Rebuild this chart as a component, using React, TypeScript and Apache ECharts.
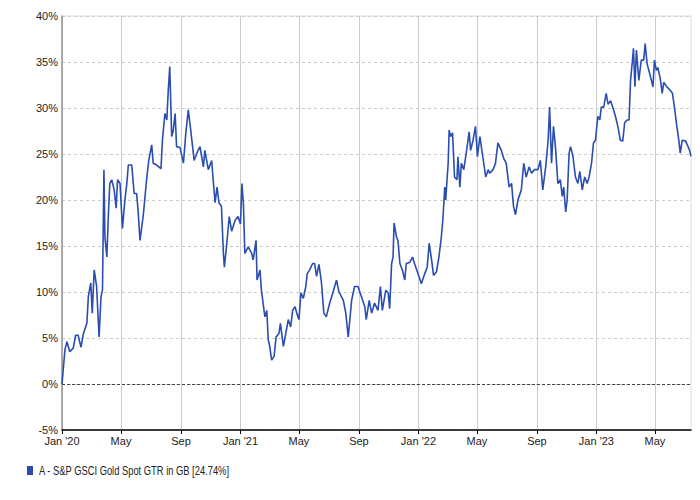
import React, { useEffect, useRef } from "react";
import * as echarts from "echarts";

const seriesName = "A - S&P GSCI Gold Spot GTR in GB [24.74%]";

const dates: string[] = [
  "2020-01-01","2020-01-07","2020-01-11","2020-01-17","2020-01-24","2020-01-29","2020-02-03","2020-02-09","2020-02-14","2020-02-21",
  "2020-02-24","2020-02-29","2020-03-03","2020-03-07","2020-03-12","2020-03-17","2020-03-21","2020-03-24","2020-03-27","2020-03-29",
  "2020-04-02","2020-04-05","2020-04-08","2020-04-12","2020-04-17","2020-04-21","2020-04-24","2020-04-29","2020-05-04","2020-05-09",
  "2020-05-13","2020-05-16","2020-05-23","2020-05-28","2020-06-02","2020-06-05","2020-06-09","2020-06-16","2020-06-23","2020-06-27",
  "2020-07-03","2020-07-06","2020-07-13","2020-07-22","2020-07-25","2020-07-30","2020-08-03","2020-08-06","2020-08-09","2020-08-13",
  "2020-08-16","2020-08-20","2020-08-23","2020-08-30","2020-09-06","2020-09-11","2020-09-16","2020-09-21","2020-09-28","2020-10-06",
  "2020-10-10","2020-10-17","2020-10-20","2020-10-27","2020-11-03","2020-11-06","2020-11-10","2020-11-14","2020-11-18","2020-11-23",
  "2020-11-27","2020-11-29","2020-12-04","2020-12-09","2020-12-14","2020-12-21","2020-12-27","2021-01-01","2021-01-04","2021-01-07",
  "2021-01-10","2021-01-17","2021-01-24","2021-01-27","2021-02-02","2021-02-04","2021-02-10","2021-02-13","2021-02-20","2021-02-24",
  "2021-02-27","2021-03-02","2021-03-06","2021-03-11","2021-03-15","2021-03-21","2021-03-24","2021-03-30","2021-04-04","2021-04-09",
  "2021-04-14","2021-04-18","2021-04-23","2021-04-27","2021-05-01","2021-05-05","2021-05-10","2021-05-15","2021-05-18","2021-05-23",
  "2021-05-29","2021-06-02","2021-06-06","2021-06-11","2021-06-16","2021-06-21","2021-06-26","2021-07-03","2021-07-10","2021-07-17",
  "2021-07-22","2021-07-31","2021-08-05","2021-08-10","2021-08-17","2021-08-23","2021-08-30","2021-09-06","2021-09-13","2021-09-16",
  "2021-09-22","2021-09-27","2021-10-03","2021-10-10","2021-10-15","2021-10-19","2021-10-26","2021-10-31","2021-11-03","2021-11-07",
  "2021-11-10","2021-11-12","2021-11-17","2021-11-20","2021-11-24","2021-11-29","2021-12-04","2021-12-07","2021-12-14","2021-12-20",
  "2021-12-24","2021-12-31","2022-01-07","2022-01-14","2022-01-19","2022-01-23","2022-01-28","2022-02-01","2022-02-07","2022-02-12",
  "2022-02-17","2022-02-20","2022-02-24","2022-02-26","2022-03-01","2022-03-03","2022-03-05","2022-03-08","2022-03-12","2022-03-16",
  "2022-03-21","2022-03-23","2022-03-27","2022-03-30","2022-04-04","2022-04-09","2022-04-15","2022-04-18","2022-04-23","2022-04-28",
  "2022-05-02","2022-05-07","2022-05-13","2022-05-19","2022-05-24","2022-05-27","2022-06-03","2022-06-08","2022-06-13","2022-06-20",
  "2022-06-25","2022-06-30","2022-07-06","2022-07-11","2022-07-15","2022-07-19","2022-07-24","2022-07-31","2022-08-05","2022-08-10",
  "2022-08-16","2022-08-21","2022-08-27","2022-09-03","2022-09-08","2022-09-13","2022-09-19","2022-09-24","2022-09-27","2022-10-01",
  "2022-10-05","2022-10-09","2022-10-14","2022-10-19","2022-10-23","2022-10-26","2022-10-30","2022-11-02","2022-11-06","2022-11-09",
  "2022-11-14","2022-11-19","2022-11-24","2022-11-28","2022-12-03","2022-12-08","2022-12-13","2022-12-17","2022-12-22","2022-12-26",
  "2022-12-30","2023-01-04","2023-01-08","2023-01-11","2023-01-16","2023-01-21","2023-01-25","2023-01-30","2023-02-04","2023-02-09",
  "2023-02-14","2023-02-19","2023-02-24","2023-02-28","2023-03-05","2023-03-09","2023-03-12","2023-03-16","2023-03-18","2023-03-21",
  "2023-03-24","2023-03-29","2023-04-03","2023-04-08","2023-04-11","2023-04-15","2023-04-20","2023-04-27","2023-04-30","2023-05-04",
  "2023-05-07","2023-05-12","2023-05-16","2023-05-19","2023-05-24","2023-05-31","2023-06-06","2023-06-10","2023-06-15","2023-06-19",
  "2023-06-22","2023-06-26","2023-07-03","2023-07-08","2023-07-11","2023-07-14"
];

const values: number[] = [
  0, 3.7, 4.6, 3.5, 3.9, 5.3, 5.3, 4.0, 5.5, 6.6,
  9.5, 11.0, 7.7, 12.4, 10.6, 5.1, 9.5, 10.2, 23.3, 16.0,
  13.8, 18.2, 21.8, 22.2, 21.1, 19.1, 22.2, 21.8, 16.9, 20.0,
  21.8, 23.8, 23.8, 20.7, 20.7, 18.9, 15.6, 18.5, 22.5, 24.3,
  26.0, 24.0, 23.8, 23.4, 26.5, 29.4, 28.7, 32.0, 34.5, 26.9,
  27.5, 29.4, 25.8, 25.7, 24.0, 27.3, 29.8, 27.6, 24.3, 25.4,
  25.8, 23.6, 25.4, 23.3, 24.3, 22.2, 19.7, 21.4, 19.7, 19.3,
  14.2, 12.7, 15.3, 18.2, 16.6, 17.8, 18.2, 17.4, 21.8, 19.7,
  14.2, 14.9, 14.2, 13.5, 15.6, 11.3, 12.4, 10.2, 7.3, 8.0,
  4.8, 4.1, 2.6, 3.0, 5.1, 5.5, 6.6, 4.1, 5.5, 7.0,
  6.2, 8.0, 8.4, 7.6, 7.0, 9.9, 9.3, 10.6, 12.0, 12.4,
  13.1, 13.1, 11.7, 13.0, 11.1, 7.7, 7.3, 8.8, 10.0, 11.3,
  10.0, 9.1, 7.7, 5.1, 9.1, 10.6, 10.6, 9.5, 8.4, 7.0,
  9.1, 7.7, 8.8, 8.0, 10.6, 8.0, 10.2, 9.9, 8.2, 13.1,
  13.8, 17.5, 16.0, 15.6, 13.1, 12.4, 11.3, 13.1, 13.2, 13.8,
  13.1, 12.0, 10.9, 12.0, 12.7, 15.3, 13.5, 11.8, 12.2, 13.8,
  16.0, 17.8, 21.4, 20.0, 22.5, 24.0, 27.6, 26.9, 27.3, 22.5,
  22.2, 24.7, 21.4, 24.0, 23.3, 25.1, 27.4, 25.4, 26.5, 28.0,
  24.7, 26.9, 24.7, 22.5, 23.3, 22.9, 23.3, 24.0, 26.2, 25.4,
  24.5, 24.0, 21.4, 21.8, 19.3, 18.4, 20.0, 21.1, 24.0, 22.5,
  23.6, 22.9, 23.3, 23.3, 24.3, 21.1, 23.6, 26.5, 30.1, 24.0,
  28.0, 25.8, 21.8, 22.2, 20.4, 21.4, 18.7, 20.0, 25.1, 25.8,
  24.7, 22.5, 21.8, 23.1, 21.1, 22.5, 21.8, 22.5, 24.0, 26.2,
  26.5, 29.1, 28.7, 30.1, 30.1, 31.6, 30.4, 30.8, 30.0, 29.1,
  28.0, 26.5, 26.4, 28.4, 28.7, 28.7, 33.0, 35.2, 36.5, 32.3,
  36.3, 33.0, 35.2, 35.2, 37.0, 34.8, 33.8, 32.3, 35.2, 34.1,
  34.4, 33.2, 31.6, 32.8, 32.4, 32.0, 31.6, 30.1, 28.0, 26.5,
  25.1, 26.5, 26.4, 25.8, 25.4, 24.74
];

const tickDates: string[] = [
  "2020-01-01","2020-05-01","2020-09-01","2021-01-01","2021-05-01","2021-09-01",
  "2022-01-01","2022-05-01","2022-09-01","2023-01-01","2023-05-01"
];
const tickLabels: string[] = [
  "Jan '20","May","Sep","Jan '21","May","Sep","Jan '22","May","Sep","Jan '23","May"
];
const xMinDate = "2020-01-01";
const xMaxDate = "2023-07-14";
const yMin = -5;
const yMax = 40;
const yStep = 5;

function toTime(s: string): number {
  const [y, m, d] = s.split("-").map(Number);
  return Date.UTC(y, m - 1, d);
}

const FONT = '"Liberation Sans Narrow", "Arial Narrow", "Liberation Sans", Arial, sans-serif';
const LINE_COLOR = "#2a4db0";

export default function App() {
  const ref = useRef<HTMLDivElement>(null);
  useEffect(() => {
    document.body.style.margin = "0";
    if (!ref.current) return;
    const chart = echarts.init(ref.current, undefined, { renderer: "svg" });
    const tickTimes = tickDates.map(toTime);
    const data = dates.map((d, i) => [toTime(d), values[i]]);
    chart.setOption({
      animation: false,
      backgroundColor: "#ffffff",
      textStyle: { fontFamily: FONT },
      grid: {
        left: 62,
        right: 9,
        top: 16,
        bottom: 70,
        show: true,
        borderColor: "#dddddd",
        borderWidth: 1,
        backgroundColor: "transparent",
      },
      graphic: [
        {
          type: "group",
          left: 27,
          top: 465,
          children: [
            { type: "rect", shape: { x: 0, y: 1, width: 6, height: 9 }, style: { fill: LINE_COLOR } },
            {
              type: "text",
              x: 12,
              y: 0,
              scaleX: 0.78,
              style: { text: seriesName, fill: "#222", font: `12px ${FONT}` },
            },
          ],
        },
      ],
      xAxis: {
        type: "value",
        min: toTime(xMinDate),
        max: toTime(xMaxDate),
        axisLine: { show: true, onZero: false, lineStyle: { color: "#000", width: 1.5 } },
        axisTick: { show: true, length: 4, customValues: tickTimes, lineStyle: { color: "#000" } },
        axisLabel: {
          customValues: tickTimes,
          margin: 5,
          color: "#222",
          fontFamily: FONT,
          fontSize: 11,
          showMinLabel: true,
          showMaxLabel: true,
          formatter: (v: number) => {
            let best = 0;
            let bd = Infinity;
            tickTimes.forEach((t, i) => {
              const dd = Math.abs(t - v);
              if (dd < bd) { bd = dd; best = i; }
            });
            return tickLabels[best];
          },
        },
        splitLine: { show: true, lineStyle: { color: "#cccccc", width: 1, type: "solid" } },
      },
      yAxis: {
        type: "value",
        min: yMin,
        max: yMax,
        interval: yStep,
        axisLine: { show: true, lineStyle: { color: "#999999", width: 1.5 } },
        axisTick: { show: false },
        axisLabel: {
          margin: 4,
          color: "#222",
          fontFamily: FONT,
          fontSize: 11,
          formatter: "{value}%",
        },
        splitLine: { show: true, lineStyle: { color: "#cccccc", width: 1, type: [3, 3] } },
      },
      series: [
        {
          name: seriesName,
          type: "line",
          data,
          showSymbol: false,
          symbol: "none",
          lineStyle: { color: LINE_COLOR, width: 1.6 },
          itemStyle: { color: LINE_COLOR },
          markLine: {
            silent: true,
            symbol: "none",
            label: { show: false },
            lineStyle: { color: "#444444", width: 1, type: [3, 2] },
            data: [{ yAxis: 0 }],
          },
        },
      ],
    });
    return () => chart.dispose();
  }, []);
  return <div ref={ref} style={{ width: 700, height: 500 }} />;
}
